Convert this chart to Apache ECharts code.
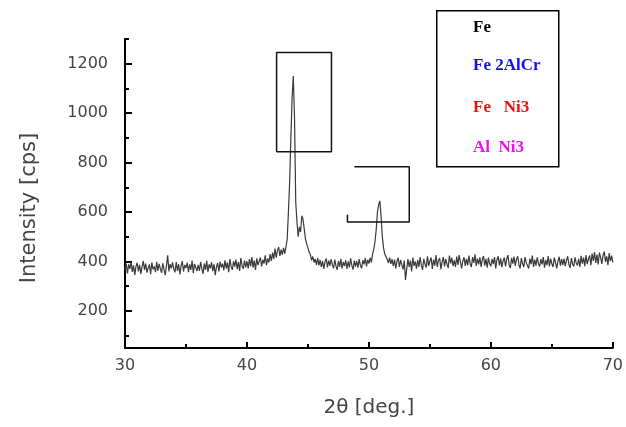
<!DOCTYPE html>
<html>
<head>
<meta charset="utf-8">
<script src="https://cdn.jsdelivr.net/npm/echarts@6/dist/echarts.min.js"></script>
<style>html,body{margin:0;padding:0;background:#fff}#c{width:626px;height:427px}</style>
</head>
<body>
<div id="c"></div>
<script>
// ---- data ----
const xStart = 30, xStep = 0.1;
const intensity = [
365,392,352,388,370,398,358,384,346,380,
395,360,386,350,378,402,366,391,355,374,
388,349,396,368,380,357,399,362,390,371,
354,393,367,345,384,425,360,389,372,396,
370,356,398,362,389,348,383,401,359,386,
374,395,357,388,366,404,353,390,377,361,
386,362,398,371,350,392,366,403,358,388,
372,397,361,389,345,378,394,360,399,376,
391,364,405,372,396,357,410,380,366,401,
379,408,369,398,362,414,383,370,404,376,
401,372,410,380,418,375,404,366,413,385,
390,416,380,407,392,425,385,412,396,430,
402,436,410,452,415,445,458,422,448,428,
455,432,460,490,600,720,900,1060,1150,980,
640,560,500,540,520,585,570,530,490,470,
455,438,428,405,420,396,410,386,414,384,
406,378,402,370,399,412,376,404,382,409,
387,372,408,381,366,402,378,411,372,398,
381,405,370,400,376,413,384,367,404,379,
402,375,410,385,372,405,388,414,380,407,
392,415,396,430,450,480,530,600,630,645,
580,500,455,430,420,408,394,416,390,409,
382,408,372,401,415,378,406,386,368,404,
325,368,410,378,404,360,416,382,400,371,
407,378,418,384,366,411,389,375,421,382,
401,416,370,408,383,426,378,404,414,369,
398,418,380,410,389,374,424,392,415,381,
405,378,420,386,426,398,372,402,417,382,
411,384,424,391,377,418,394,429,382,412,
388,417,378,409,422,383,411,375,416,391,
381,411,389,418,372,408,421,384,413,377,
402,416,380,410,426,386,374,415,391,420,
382,409,421,387,372,414,391,378,418,395,
398,372,412,389,424,378,408,383,417,392,
380,410,388,418,375,406,385,422,380,411,
391,378,416,396,372,401,419,383,410,385,
412,381,404,421,387,374,414,390,380,417,
394,384,411,378,423,391,416,381,426,389,
410,424,385,432,402,438,394,428,388,436,
417,390,426,440,398,421,385,434,401,424,
396
];
const xMajorTicks = [30, 40, 50, 60, 70];
const xMinorTicks = [35, 45, 55, 65];
const yMajorTicks = [200, 400, 600, 800, 1000, 1200];
const yMinorTicks = [100, 300, 500, 700, 900, 1100, 1300];
// annotation boxes (data units)
const box1 = [[42.43, 844], [42.43, 1245], [46.93, 1245], [46.93, 844], [42.43, 844]];
const box2 = [[48.81, 783], [53.31, 783], [53.31, 560], [48.24, 560], [48.24, 589]];
const legendItems = ['Fe', 'Fe 2AlCr', 'Fe   Ni3', 'Al  Ni3'];
const legendColors = ['#000000', '#1010ee', '#ee1010', '#ee10ee'];
const xTitle = '2θ [deg.]';
const yTitle = 'Intensity [cps]';

const points = intensity.map((v, i) => [+(xStart + i * xStep).toFixed(2), v]);

const chart = echarts.init(document.getElementById('c'));
const labelColor = '#444';
const tickStyle = { color: '#000', width: 2 };
const legendTexts = legendItems.map((t, i) => ({
  type: 'text', left: 473, top: [19, 57, 99, 139][i],
  style: { text: t, fill: legendColors[i], font: 'bold 17px "Liberation Serif"' }
}));
chart.setOption({
  animation: false,
  backgroundColor: '#fff',
  grid: { left: 125, right: 12, top: 39, bottom: 79 },
  xAxis: [{
    type: 'value', min: 30, max: 70,
    name: xTitle, nameLocation: 'middle', nameGap: 50,
    nameTextStyle: { fontFamily: 'DejaVu Sans', fontSize: 20, color: labelColor },
    axisLine: { show: true, onZero: false, lineStyle: { color: '#000', width: 2 } },
    axisTick: { inside: true, length: 6, customValues: xMajorTicks, lineStyle: tickStyle },
    axisLabel: { customValues: xMajorTicks, fontFamily: 'DejaVu Sans', fontSize: 16, color: labelColor, margin: 10 },
    splitLine: { show: false }
  }, {
    type: 'value', min: 30, max: 70, position: 'bottom', offset: 0,
    axisLine: { show: false },
    axisTick: { show: true, inside: true, length: 4, customValues: xMinorTicks, lineStyle: tickStyle },
    axisLabel: { show: false },
    splitLine: { show: false }
  }],
  yAxis: [{
    type: 'value', min: 50, max: 1300, position: 'left',
    axisLine: { show: true, onZero: false, lineStyle: { color: '#000', width: 2 } },
    axisTick: { inside: true, length: 7, customValues: yMajorTicks, lineStyle: tickStyle },
    axisLabel: { customValues: yMajorTicks, formatter: v => String(v), fontFamily: 'DejaVu Sans', fontSize: 16, color: labelColor, margin: 17 },
    splitLine: { show: false }
  }, {
    type: 'value', min: 50, max: 1300, position: 'left', offset: 0,
    axisLine: { show: false },
    axisTick: { show: true, inside: true, length: 4, customValues: yMinorTicks, lineStyle: tickStyle },
    axisLabel: { show: false },
    splitLine: { show: false }
  }],
  series: [{
    type: 'line', data: points, showSymbol: false, symbol: 'none',
    lineStyle: { color: '#3a3a3a', width: 1.2 }
  }, {
    type: 'line', data: box1, showSymbol: false, symbol: 'none',
    lineStyle: { color: '#111', width: 1.5 }
  }, {
    type: 'line', data: box2, showSymbol: false, symbol: 'none',
    lineStyle: { color: '#111', width: 1.5 }
  }],
  graphic: [{
    type: 'rect', left: 436, top: 10,
    shape: { width: 122, height: 156 },
    style: { fill: '#fff', stroke: '#000', lineWidth: 1.5 }
  }, {
    type: 'text', x: 30, y: 208, rotation: Math.PI / 2,
    style: { text: yTitle, fill: labelColor, font: '21px "DejaVu Sans"', align: 'center', verticalAlign: 'middle' }
  }].concat(legendTexts)
});
</script>
</body>
</html>
